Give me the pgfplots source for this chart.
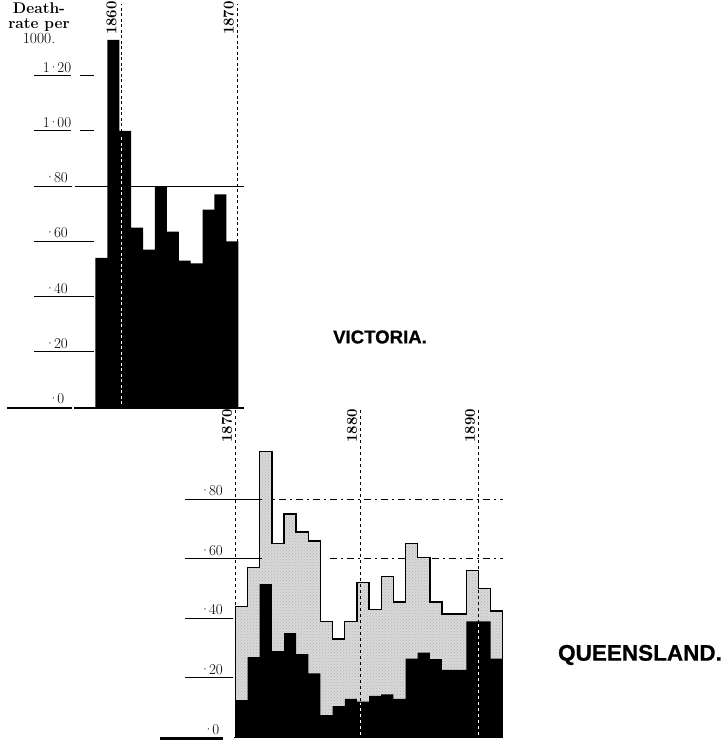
\documentclass[border=0pt]{standalone}
\usepackage{fontspec}
\usepackage{pgfplots}
\pgfplotsset{compat=1.18}
\usetikzlibrary{patterns}
\newfontfamily\sansb{Liberation Sans}
\definecolor{stipple}{gray}{0.85}
\newcommand{\tl}[1]{\fontsize{15}{15}\selectfont\addfontfeatures{FakeBold=0.6}#1}
\newcommand{\dt}{\kern-0.1em·\kern-0.1em}
\newcommand{\yr}{\fontsize{15}{15}\selectfont\bfseries\addfontfeatures{FakeBold=0.6}}

\begin{document}
\begin{tikzpicture}
\path[use as bounding box] (0,0) rectangle (726pt,741pt);

% ---------------- VICTORIA ----------------
\begin{axis}[
  at={(5pt,334pt)}, anchor=south west, scale only axis,
  width=240.4pt, height=405.72pt,
  xmin=1850.4, xmax=1870.6, ymin=0, ymax=1.47,
  clip=false, axis line style={draw=none}, tick style={draw=none},
  xtick=\empty,
  ytick={0,0.2,0.4,0.6,0.8,1.0,1.2},
  yticklabels={\tl{\dt0},\tl{\dt20},\tl{\dt40},\tl{\dt60},\tl{\dt80},\tl{1\dt00},\tl{1\dt20}},
  yticklabel style={anchor=south, xshift=52pt, yshift=1pt, inner sep=2pt},
]
\addplot[const plot, fill=black, draw=none, mark=none] coordinates {
  (1858,0.54) (1859,1.33) (1860,1.00) (1861,0.65) (1862,0.57) (1863,0.80)
  (1864,0.635) (1865,0.53) (1866,0.52) (1867,0.715) (1868,0.77) (1869,0.60)
  (1870,0.60)} \closedcycle;
% year lines
\draw[dash pattern=on 3pt off 2.5pt, line width=0.9pt] (axis cs:1860.15,0) -- (axis cs:1860.15,1.46);
\draw[white, dash pattern=on 3pt off 2.5pt, line width=0.9pt] (axis cs:1860.15,0.01) -- (axis cs:1860.15,0.98);
\draw[dash pattern=on 3pt off 2.5pt, line width=0.9pt] (axis cs:1869.95,0) -- (axis cs:1869.95,1.46);
\node[rotate=90, anchor=south west, inner sep=2pt, font=\yr]
  at (axis cs:1859.95,1.34) {1860};
\node[rotate=90, anchor=south west, inner sep=2pt, font=\yr]
  at (axis cs:1869.8,1.34) {1870};
% horizontal rules
\draw[line width=1pt] (axis cs:1856.24,0.8) -- (axis cs:1870.52,0.8);
\draw[line width=1pt] (axis cs:1852.87,0.8) -- (axis cs:1856.0,0.8);
\draw[line width=1pt] (axis cs:1852.87,0.6) -- (axis cs:1857.92,0.6);
\draw[line width=1pt] (axis cs:1852.87,0.4) -- (axis cs:1857.92,0.4);
\draw[line width=1pt] (axis cs:1852.87,0.2) -- (axis cs:1857.92,0.2);
\draw[line width=1pt] (axis cs:1852.87,1.0) -- (axis cs:1855.98,1.0);
\draw[line width=1pt] (axis cs:1856.66,1.0) -- (axis cs:1857.92,1.0);
\draw[line width=1pt] (axis cs:1852.87,1.2) -- (axis cs:1855.98,1.2);
\draw[line width=1pt] (axis cs:1856.66,1.2) -- (axis cs:1857.92,1.2);
\draw[line width=2.2pt, yshift=-1pt] (axis cs:1850.6,0) -- (axis cs:1856.0,0);
\draw[line width=2.2pt, yshift=-1pt] (axis cs:1856.2,0) -- (axis cs:1870.5,0);
\end{axis}

% ---------------- QUEENSLAND ----------------
\begin{axis}[
  at={(160pt,3.5pt)}, anchor=south west, scale only axis,
  width=344.9pt, height=327.8pt,
  xmin=1863.79, xmax=1892.18, ymin=0, ymax=1.1,
  clip=false, axis line style={draw=none}, tick style={draw=none},
  xtick=\empty,
  ytick={0,0.2,0.4,0.6,0.8},
  yticklabels={\tl{\dt0},\tl{\dt20},\tl{\dt40},\tl{\dt60},\tl{\dt80}},
  yticklabel style={anchor=south, xshift=52pt, yshift=1pt, inner sep=2pt},
]
% dash-dot reference lines (behind bars)
\draw[line width=0.9pt, dash pattern=on 7pt off 4pt on 2pt off 4pt] (axis cs:1872.18,0.8) -- (axis cs:1892.02,0.8);
\draw[line width=0.9pt, dash pattern=on 7pt off 4pt on 2pt off 4pt] (axis cs:1877.78,0.6) -- (axis cs:1892.02,0.6);
% total (grey)
\addplot[const plot, fill=stipple, draw=black, line width=1.4pt, mark=none,
  postaction={pattern=crosshatch dots, pattern color=black!30}] coordinates {
  (1870,0.44) (1871,0.57) (1872,0.96) (1873,0.65) (1874,0.75) (1875,0.69)
  (1876,0.66) (1877,0.39) (1878,0.33) (1879,0.39) (1880,0.52) (1881,0.43)
  (1882,0.54) (1883,0.455) (1884,0.65) (1885,0.605) (1886,0.455) (1887,0.415)
  (1888,0.415) (1889,0.56) (1890,0.50) (1891,0.425) (1892,0.425)} \closedcycle;
% black part
\addplot[const plot, fill=black, draw=none, mark=none] coordinates {
  (1870,0.125) (1871,0.27) (1872,0.515) (1873,0.29) (1874,0.35) (1875,0.28)
  (1876,0.215) (1877,0.075) (1878,0.105) (1879,0.13) (1880,0.12) (1881,0.14)
  (1882,0.145) (1883,0.13) (1884,0.265) (1885,0.285) (1886,0.263) (1887,0.227)
  (1888,0.227) (1889,0.39) (1890,0.39) (1891,0.265) (1892,0.265)} \closedcycle;
% year lines
\draw[dash pattern=on 3pt off 3pt, line width=0.9pt] (axis cs:1870,0) -- (axis cs:1870,1.1);
\draw[dash pattern=on 3pt off 3pt, line width=0.9pt] (axis cs:1880.3,0) -- (axis cs:1880.3,1.1);
\draw[white, dash pattern=on 3pt off 3pt, line width=0.9pt] (axis cs:1880.3,0.01) -- (axis cs:1880.3,0.115);
\draw[dash pattern=on 3pt off 3pt, line width=0.9pt] (axis cs:1890,0) -- (axis cs:1890,1.1);
\draw[white, dash pattern=on 3pt off 3pt, line width=0.9pt] (axis cs:1890,0.01) -- (axis cs:1890,0.38);
\node[rotate=90, anchor=south west, inner sep=2pt, font=\yr]
  at (axis cs:1869.9,0.982) {1870};
\node[rotate=90, anchor=south west, inner sep=2pt, font=\yr]
  at (axis cs:1880.2,0.982) {1880};
\node[rotate=90, anchor=south west, inner sep=2pt, font=\yr]
  at (axis cs:1889.9,0.982) {1890};
% label rules
\draw[line width=1pt] (axis cs:1865.84,0.8) -- (axis cs:1872.18,0.8);
\draw[line width=1pt] (axis cs:1865.84,0.6) -- (axis cs:1872.18,0.6);
\draw[line width=1pt] (axis cs:1865.84,0.4) -- (axis cs:1869.79,0.4);
\draw[line width=1pt] (axis cs:1865.84,0.2) -- (axis cs:1869.79,0.2);
\draw[line width=2.2pt, yshift=-1pt] (axis cs:1863.79,0) -- (axis cs:1868.97,0);
\draw[line width=0.8pt] (axis cs:1869.9,0) -- (axis cs:1892.02,0);
\end{axis}

% titles and annotations
\node[align=center, anchor=north, inner sep=0pt, font=\fontsize{15.5}{15}\selectfont]
  at (39pt,738pt) {\bfseries\addfontfeatures{FakeBold=0.6}Death-\\ \bfseries\addfontfeatures{FakeBold=0.6}rate per\\ \addfontfeatures{FakeBold=0.3}1000.};
\node[font=\sansb\bfseries\fontsize{18.6}{20}\selectfont\addfontfeatures{FakeBold=0.8}] at (380pt,404pt) {VICTORIA.};
\node[font=\sansb\bfseries\fontsize{22.5}{24}\selectfont\addfontfeatures{FakeBold=0.8}] at (640pt,86pt) {QUEENSLAND.};
\end{tikzpicture}
\end{document}
